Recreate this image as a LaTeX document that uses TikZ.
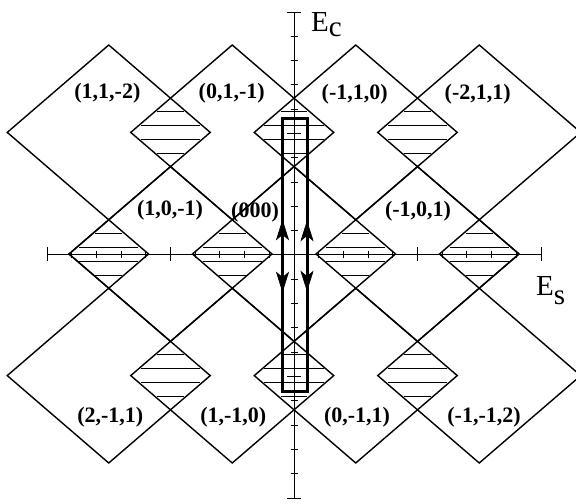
\documentclass[tikz,border=0pt]{standalone}
\usepackage{fontspec}
\setmainfont{Liberation Serif}
\usetikzlibrary{arrows.meta}
\begin{document}
\begin{tikzpicture}[x=1pt,y=-1pt,
  diam/.style={line width=1.4pt, line join=miter},
  hatchline/.style={line width=1pt},
  axisline/.style={line width=0.9pt},
  lbl/.style={font=\bfseries\fontsize{22}{22}\selectfont, inner sep=0pt, anchor=base},
  axlbl/.style={font=\fontsize{29}{29}\selectfont, inner sep=0pt, anchor=base west},
  boxline/.style={line width=3pt},
  headfill/.style={fill=black, draw=black, line width=0.6pt, line join=miter},
]
\useasboundingbox (0,0) rectangle (576,503);
\clip (0,0) rectangle (576,503);
\def\W{101.5}
\def\H{87.4}
\def\a{39.75}
\def\b{34.2}
% big diamonds, rows 1 and 3
\foreach \cx in {108.75,232.25,355.75,479.25} {
  \foreach \cy in {132.4,375.6} {
    \draw[diam] ({\cx-\W},\cy) -- (\cx,{\cy-\H}) -- ({\cx+\W},\cy) -- (\cx,{\cy+\H}) -- cycle;
  }
}
% big diamonds, middle row
\foreach \cx in {170.5,294,417.5} {
  \draw[diam] ({\cx-\W},254) -- (\cx,{254-\H}) -- ({\cx+\W},254) -- (\cx,{254+\H}) -- cycle;
}
% outer small diamond outlines on the axis
\foreach \cx in {108.75,479.25} {
  \draw[diam] ({\cx-\a},254) -- (\cx,{254-\b}) -- ({\cx+\a},254) -- (\cx,{254+\b}) -- cycle;
}
% hatching
\foreach \cx/\cy in {170.5/132.4,294/132.4,417.5/132.4,170.5/375.6,294/375.6,417.5/375.6,108.75/254,232.25/254,355.75/254,479.25/254} {
  \foreach \d in {-21,-7,7,21} {
    \pgfmathsetmacro\hl{\a*(1-abs(\d)/\b)-2}
    \draw[hatchline] ({\cx-\hl},{\cy+\d}) -- ({\cx+\hl},{\cy+\d});
  }
}
% horizontal axis
\draw[axisline] (47,254) -- (541,254);
\foreach \x in {47,541} \draw[axisline] (\x,247) -- (\x,261);
\foreach \x in {170.5,417.5} \draw[axisline] (\x,247) -- (\x,261);
\foreach \k in {-9,-8,-7,-6,-4,-3,-2,-1,1,2,3,4,6,7,8,9} {
  \draw[axisline] ({294+24.7*\k},250.5) -- ({294+24.7*\k},257.5);
}
% vertical axis
\draw[axisline] (294,12) -- (294,498);
\foreach \y in {12,498} \draw[axisline] (287,\y) -- (301,\y);
\foreach \y in {133.5,376.5} \draw[axisline] (287,\y) -- (301,\y);
\foreach \k in {-9,-8,-7,-6,-4,-3,-2,-1,1,2,3,4,6,7,8,9} {
  \draw[axisline] (290.5,{255+24.3*\k}) -- (297.5,{255+24.3*\k});
}
% thick rectangle
\draw[boxline] (282.5,118.5) rectangle (307,391.5);
% arrowheads on the rectangle's long sides
\coordinate (lu) at (282.5,220.5);
\coordinate (ru) at (307,221.5);
\coordinate (ld) at (282.5,291.5);
\coordinate (rd) at (307,290.5);
\foreach \t in {lu,ru} {
  \fill[headfill] (\t) -- ++(-6,19) -- ++(6,-5) -- ++(6,5) -- cycle;
}
\foreach \t in {ld,rd} {
  \fill[headfill] (\t) -- ++(-6,-19) -- ++(6,5) -- ++(6,-5) -- cycle;
}
% labels
\node[lbl] (n1) at (107.4,99) {(1,1,-2)};
\node[lbl] (n2) at (231.7,99) {(0,1,-1)};
\node[lbl] (n3) at (354.7,99.5) {(-1,1,0)};
\node[lbl] (n4) at (477.7,99.5) {(-2,1,1)};
\node[lbl] (n5) at (170,215.5) {(1,0,-1)};
\node[lbl] (n6) at (255,217) {(000)};
\node[lbl] (n7) at (418,216) {(-1,0,1)};
\node[lbl] (n8) at (110.3,422) {(2,-1,1)};
\node[lbl] (n9) at (233.3,422) {(1,-1,0)};
\node[lbl] (n10) at (357,422.5) {(0,-1,1)};
\node[lbl] (n11) at (484,422.5) {(-1,-1,2)};
\node[axlbl] (ec) at (311,32) {E\raisebox{-5pt}{c}};
\node[axlbl] (es) at (536,295) {E\raisebox{-9pt}{s}};
\end{tikzpicture}
\end{document}
